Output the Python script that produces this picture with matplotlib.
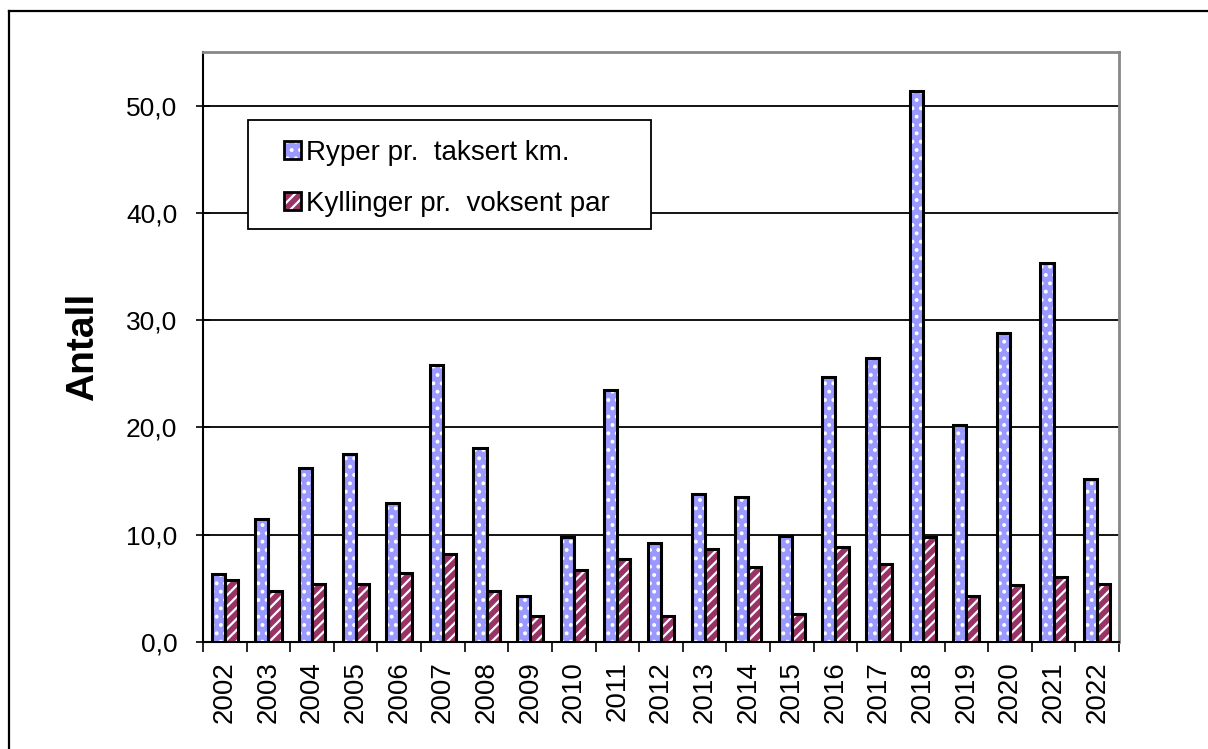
import matplotlib
matplotlib.use("Agg")
import matplotlib.pyplot as plt
import numpy as np
from matplotlib.patches import Patch, Rectangle
from matplotlib.lines import Line2D
from matplotlib.legend_handler import HandlerTuple
from matplotlib.ticker import FixedLocator, FuncFormatter

plt.rcParams['font.family'] = ['Liberation Sans', 'DejaVu Sans']
plt.rcParams['hatch.linewidth'] = 1.6

years = [str(y) for y in range(2002, 2023)]
ryper = [6.3, 11.5, 16.2, 17.5, 13.0, 25.8, 18.1, 4.3, 9.8, 23.5, 9.2,
         13.8, 13.5, 9.9, 24.7, 26.5, 51.4, 20.2, 28.8, 35.3, 15.2]
kyllinger = [5.8, 4.8, 5.4, 5.4, 6.4, 8.2, 4.8, 2.4, 6.7, 7.7, 2.4,
             8.7, 7.0, 2.6, 8.9, 7.3, 9.8, 4.3, 5.3, 6.1, 5.4]
label_ryper = "Ryper pr.  taksert km."
label_kyll = "Kyllinger pr.  voksent par"

blue = "#9999FF"
red = "#993366"

W, H = 1208, 749
fig = plt.figure(figsize=(W / 100, H / 100), dpi=100)
# outer frame (top and left edges visible)
fig.lines.append(Line2D([9 / W, 1.0], [1 - 11 / H, 1 - 11 / H], transform=fig.transFigure,
                        color='black', linewidth=1.6))
fig.lines.append(Line2D([9 / W, 9 / W], [0.0, 1 - 11 / H], transform=fig.transFigure,
                        color='black', linewidth=1.6))

ax = fig.add_axes([203 / W, 1 - 642 / H, (1119 - 203) / W, (642 - 52) / H])

x = np.arange(len(years))
w = 0.3
off = 0.15
ax.bar(x - off, ryper, w, color=blue, edgecolor='white', hatch='..', linewidth=0, zorder=3)
ax.bar(x + off, kyllinger, w, color=red, edgecolor='white', hatch='///', linewidth=0, zorder=3)
ax.bar(x - off, ryper, w, fill=False, edgecolor='black', linewidth=2.2, zorder=4)
ax.bar(x + off, kyllinger, w, fill=False, edgecolor='black', linewidth=2.2, zorder=4)

ax.set_xlim(-0.5, len(years) - 0.5)
ax.set_ylim(0, 55)
ax.set_yticks(np.arange(0, 51, 10))
ax.yaxis.set_major_formatter(FuncFormatter(lambda v, p: f"{v:.1f}".replace('.', ',')))
ax.yaxis.grid(True, color='black', linewidth=1.3, zorder=1)
ax.set_axisbelow(True)

ax.set_xticks(x)
ax.set_xticklabels(years, rotation=90, fontsize=20)
ax.xaxis.set_minor_locator(FixedLocator(np.arange(-0.5, len(years), 1.0)))
ax.tick_params(axis='x', which='major', length=0, pad=14)
ax.tick_params(axis='x', which='minor', length=7, width=1.2, direction='out', color='black')
ax.tick_params(axis='y', which='major', length=10, width=1.2, direction='inout', labelsize=19, pad=13.5)

for s in ['top', 'right']:
    ax.spines[s].set_color('#888888')
    ax.spines[s].set_linewidth(2)
for s in ['left', 'bottom']:
    ax.spines[s].set_color('black')
    ax.spines[s].set_linewidth(1.5)

ax.set_ylabel("Antall", fontsize=28, fontweight='bold')
ax.yaxis.set_label_coords((101 - 203) / 916, 0.5)

# legend frame
frame = Rectangle((248 / W, 1 - 229 / H), 403 / W, 109 / H, transform=fig.transFigure,
                  facecolor='white', edgecolor='black', linewidth=1.3, zorder=5, clip_on=False)
ax.add_patch(frame)

h1 = (Patch(facecolor=blue, edgecolor='white', hatch='..', linewidth=0),
      Patch(fill=False, edgecolor='black', linewidth=2))
h2 = (Patch(facecolor=red, edgecolor='white', hatch='///', linewidth=0),
      Patch(fill=False, edgecolor='black', linewidth=2))
leg = ax.legend([h1, h2], [label_ryper, label_kyll],
                handler_map={tuple: HandlerTuple(ndivide=1)},
                loc='upper left', bbox_to_anchor=((284 - 203) / 916, (642 - 140) / 590),
                fontsize=20, frameon=False,
                handlelength=0.6, handleheight=0.6, handletextpad=0.18,
                labelspacing=0.9, borderpad=0, borderaxespad=0)
leg.set_zorder(6)

fig.savefig("out.png", dpi=100)
